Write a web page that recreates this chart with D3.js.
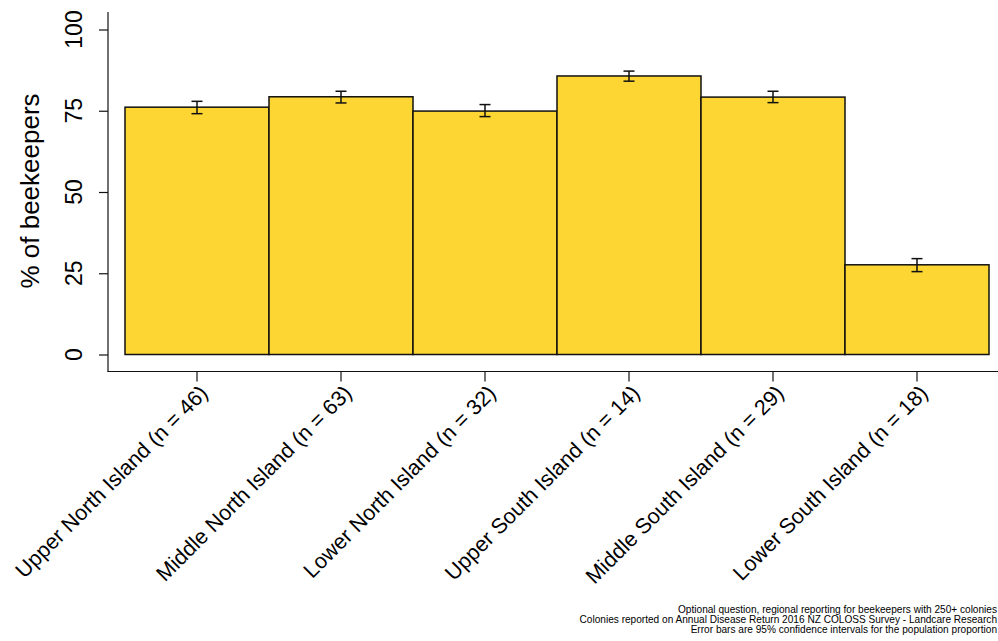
<!DOCTYPE html>
<html><head><meta charset="utf-8">
<script src="https://cdn.jsdelivr.net/npm/d3@7"></script>
<style>body{margin:0;background:#fff}svg{display:block;font-family:"Liberation Sans",Arial,sans-serif}</style>
</head><body><svg id="c" width="998" height="641"></svg>
<script>
const categories = ["Upper North Island (n = 46)","Middle North Island (n = 63)","Lower North Island (n = 32)","Upper South Island (n = 14)","Middle South Island (n = 29)","Lower South Island (n = 18)"];
const values = [76.1, 79.3, 74.9, 85.7, 79.2, 27.6];
const lower = [74.1, 77.4, 73.2, 84.1, 77.5, 25.5];
const upper = [77.9, 81.0, 76.9, 87.2, 81.0, 29.5];
const yTicks = [0, 25, 50, 75, 100];
const yTitle = "% of beekeepers";
const notes = ["Optional question, regional reporting for beekeepers with 250+ colonies",
  "Colonies reported on Annual Disease Return 2016 NZ COLOSS Survey - Landcare Research",
  "Error bars are 95% confidence intervals for the population proportion"];

const svg = d3.select("#c");
const y = d3.scaleLinear().domain([0,100]).range([354.5, 29.5]);
const x = d3.scaleBand().domain(categories).range([125, 989]).padding(0);
const data = categories.map((c,i)=>({c, v:values[i], lo:lower[i], hi:upper[i]}));

// bars
svg.append("g").selectAll("rect").data(data).join("rect")
  .attr("x", d=>x(d.c)).attr("y", d=>y(d.v))
  .attr("width", x.bandwidth()).attr("height", d=>y(0)-y(d.v))
  .attr("fill", "#fdd633").attr("stroke", "#111").attr("stroke-width", 1.5);

// error bars
const eb = svg.append("g").attr("stroke", "#111").attr("stroke-width", 1.5);
data.forEach(d=>{
  const cx = x(d.c) + x.bandwidth()/2;
  eb.append("line").attr("x1", cx).attr("x2", cx).attr("y1", y(d.lo)).attr("y2", y(d.hi));
  eb.append("line").attr("x1", cx-5.5).attr("x2", cx+5.5).attr("y1", y(d.lo)).attr("y2", y(d.lo));
  eb.append("line").attr("x1", cx-5.5).attr("x2", cx+5.5).attr("y1", y(d.hi)).attr("y2", y(d.hi));
});

// y axis
const yAxis = svg.append("g").attr("transform", "translate(108,0)")
  .call(d3.axisLeft(y).tickValues(yTicks).tickSize(9).tickFormat(""));
yAxis.select(".domain").remove();
yAxis.selectAll(".tick line").attr("stroke", "#111").attr("stroke-width", 1.2);
const yl = svg.append("g");
yTicks.forEach(t=>{
  yl.append("text")
    .attr("transform", "translate(74," + y(t) + ") rotate(-90)")
    .attr("text-anchor", "middle").attr("dy", "0.36em")
    .attr("font-size", 23).attr("fill", "#000").text(t);
});
svg.append("line").attr("x1",108).attr("x2",108).attr("y1",12).attr("y2",371.5)
  .attr("stroke","#111").attr("stroke-width",1.2);

// x axis
const xAxis = svg.append("g").attr("transform", "translate(0,371.5)")
  .call(d3.axisBottom(x).tickSize(10).tickPadding(0));
xAxis.select(".domain").remove();
xAxis.selectAll(".tick line").attr("stroke", "#111").attr("stroke-width", 1.2);
xAxis.selectAll(".tick text")
  .attr("font-size", 21.5).attr("fill", "#000")
  .attr("text-anchor", "end")
  .attr("y", 0).attr("dy", 0)
  .attr("transform", "translate(12,23) rotate(-45)");
svg.append("line").attr("x1",107.4).attr("x2",998).attr("y1",371.5).attr("y2",371.5)
  .attr("stroke","#111").attr("stroke-width",1.2);

// y title
svg.append("text").attr("transform", "translate(30,191) rotate(-90)")
  .attr("text-anchor", "middle").attr("dy", "0.35em")
  .attr("font-size", 26).text(yTitle);

// notes
const ny = [612.5, 622.5, 632.5];
svg.append("g").selectAll("text").data(notes).join("text")
  .attr("x", 997).attr("y", (d,i)=>ny[i]).attr("text-anchor", "end")
  .attr("font-size", 10.1).attr("fill", "#000").text(d=>d);
</script></body></html>
